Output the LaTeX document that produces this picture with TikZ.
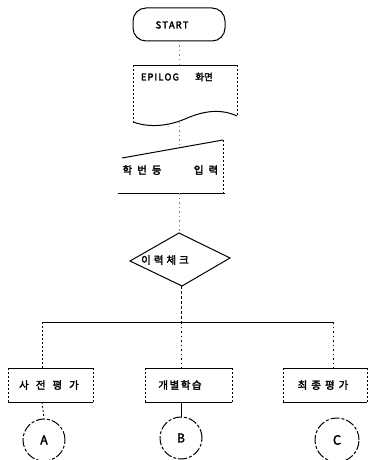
\documentclass[tikz,border=0pt]{standalone}
\usepackage{fontspec}
\newfontfamily\kr{Noto Sans CJK KR}[FakeBold=2.5]
\begin{document}
\begin{tikzpicture}[x=1pt,y=-1pt,
  shp/.style={line width=1pt},
  side/.style={line width=0.8pt,dash pattern=on 2pt off 2pt},
  conn/.style={line width=0.7pt,dash pattern=on 1.5pt off 3pt,gray},
  lbl/.style={inner sep=0pt,font=\kr\fontsize{10.5}{12}\selectfont},
  circ/.style={line width=1pt,dash pattern=on 9pt off 2pt on 3pt off 2pt}]
\useasboundingbox (0,0) rectangle (370,460);
\fill[white] (0,0) rectangle (370,460);

% START terminator
\draw[shp,rounded corners=13pt] (133,8) rectangle (225,41);
\node[lbl,font=\kr\fontsize{9.5}{11}\selectfont] (start) at (172,25) {S\kern1ptT\kern1ptA\kern1ptR\kern1ptT};

% EPILOG display
\draw[shp] (133,65) -- (237,65);
\draw[side] (133,65) -- (133,122);
\draw[side] (237,65) -- (237,116);
\draw[shp] (133,122) .. controls (150,128) and (168,126) .. (185,119) .. controls (205,110) and (222,109) .. (237,116);
\node[lbl,font=\kr\fontsize{9.5}{11}\selectfont] (epi) at (160,77) {E\kern1ptP\kern1ptI\kern1ptL\kern1ptO\kern1ptG};
\node[lbl,font=\kr\fontsize{9.5}{11}\selectfont] (epi2) at (204,77) {화면};

% manual input
\draw[shp] (122,158) -- (223,140);
\draw[side] (223,140) -- (223,193);
\draw[shp] (118,193) -- (225,193);
\node[lbl] (inp) at (142,170) {학\kern5pt번\kern5pt등};
\node[lbl] (inp2) at (206,170) {입\kern5pt력};

% decision
\draw[shp] (179,233) -- (230,258) -- (182,286) -- (130,261) -- cycle;
\node[lbl] (chk) at (165,260) {이\kern3pt력\kern3pt체\kern3pt크};

% boxes
\foreach \l/\r in {8/93,145/232,283/367}{
  \draw[shp] (\l,368) -- (\r,368);
  \draw[shp] (\l,402) -- (\r,402);
  \draw[side] (\l,368) -- (\l,402);
  \draw[side] (\r,368) -- (\r,402);
}
\node[lbl] (b1) at (49,385) {사\kern7pt전\kern7pt평\kern7pt가};
\node[lbl] (b2) at (180,385) {개\kern1.5pt별\kern1.5pt학\kern1.5pt습};
\node[lbl] (b3) at (323,385) {최\kern4pt종\kern4pt평\kern4pt가};

% connectors (named coordinates)
\coordinate (s1) at (179,41);   \coordinate (e1) at (179,65);
\coordinate (s2) at (179,121);  \coordinate (e2) at (179,148);
\coordinate (s3) at (179,193);  \coordinate (e3) at (179,233);
\coordinate (s4) at (181,286);  \coordinate (hm) at (181,322);
\coordinate (hl) at (42,322);   \coordinate (hr) at (333,322);
\coordinate (t1) at (42,368);   \coordinate (t2) at (181,368); \coordinate (t3) at (333,368);
\coordinate (u1) at (42,402);   \coordinate (u2) at (181,402);
\draw[conn] (s1) -- (e1);
\draw[conn] (s2) -- (e2);
\draw[conn] (s3) -- (e3);
\draw[line width=0.8pt,dash pattern=on 3pt off 2pt] (s4) -- (hm);
\draw[shp] (hl) -- (hr);
\draw[side] (hl) -- (t1);
\draw[conn,black] (hm) -- (t2);
\draw[conn,black] (hr) -- (t3);

% circles
\node[circ,draw,circle,minimum size=42pt,inner sep=0pt,font=\kr\fontsize{12}{13}\selectfont] (cA) at (44,440) {A};
\node[circ,draw,circle,minimum size=42pt,inner sep=0pt,font=\kr\fontsize{12}{13}\selectfont] (cB) at (181,438) {B};
\node[circ,draw,circle,minimum size=44pt,inner sep=0pt,font=\kr\fontsize{13}{14}\selectfont] (cC) at (337,440) {C};
\draw[side] (u1) -- (cA.north);
\draw[shp] (u2) -- (cB.north);
\end{tikzpicture}
\end{document}
